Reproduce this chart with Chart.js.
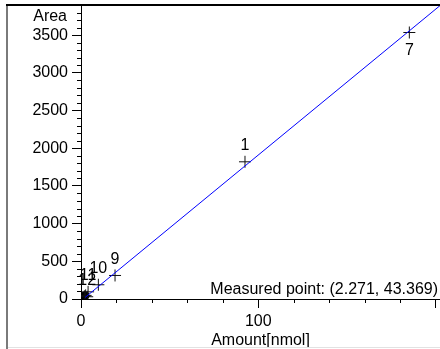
<!DOCTYPE html>
<html>
<head>
<meta charset="utf-8">
<script src="https://cdn.jsdelivr.net/npm/chart.js@4/dist/chart.umd.min.js"></script>
<style>
  html, body { margin: 0; padding: 0; background: #fff; }
  #c { display: block; }
</style>
</head>
<body>
<canvas id="c" width="440" height="349"></canvas>
<script>
// ---- data ----
const pointNames   = ['1',    '7',    '9',   '10',  '11',  '12',  '2',   '3'];
const pointAmounts = [92.5,   185.2,  19.2,  9.8,   4.0,   3.5,   1.9,   2.6];
const pointAreas   = [1820,   3535,   312,   189,   95,    30,    36,    48];
const labelledPoints = ['1', '7', '9', '10', '11', '12'];

const fitAmounts = [2.271, 202.5];
const fitAreas   = [20, 3892];

const measuredPoint = [2.271, 43.369];

const xTickValues = [0, 100, 200];
const xTickLabels = ['0', '100', ''];
const yTickValues = [0, 500, 1000, 1500, 2000, 2500, 3000, 3500];
const yTickLabels = ['0', '500', '1000', '1500', '2000', '2500', '3000', '3500'];
const xMinorStep = 20;
const yMinorStep = 100;
const xTitle = 'Amount[nmol]';
const yTitle = 'Area';

const FONT = "'Liberation Sans', Arial, sans-serif";

const decor = {
  id: 'decor',
  beforeDraw(chart) {
    const ctx = chart.ctx;
    ctx.save();
    ctx.fillStyle = '#fff';
    ctx.fillRect(0, 0, chart.width, chart.height);
    ctx.restore();
  },
  afterDraw(chart) {
    const ctx = chart.ctx;
    const xs = chart.scales.x, ys = chart.scales.y;
    const ca = chart.chartArea;
    ctx.save();
    // frame
    ctx.strokeStyle = '#7a7a7a'; ctx.lineWidth = 2;
    ctx.beginPath(); ctx.moveTo(7, 4); ctx.lineTo(7, 349); ctx.stroke();
    ctx.strokeStyle = '#000'; ctx.lineWidth = 2;
    ctx.beginPath(); ctx.moveTo(6, 5); ctx.lineTo(440, 5); ctx.stroke();
    ctx.strokeStyle = '#e2e2e2'; ctx.lineWidth = 1;
    ctx.beginPath(); ctx.moveTo(8, 347.5); ctx.lineTo(440, 347.5); ctx.stroke();

    // minor ticks
    ctx.strokeStyle = '#000'; ctx.lineWidth = 1;
    ctx.beginPath();
    for (let v = 0; v <= ys.max + 0.001; v += yMinorStep) {
      if (yTickValues.includes(v)) continue;
      const py = Math.round(ys.getPixelForValue(v)) + 0.5;
      ctx.moveTo(ca.left - 4, py); ctx.lineTo(ca.left, py);
    }
    for (let v = 0; v <= xs.max + 0.001; v += xMinorStep) {
      if (xTickValues.includes(v)) continue;
      const px = Math.round(xs.getPixelForValue(v)) + 0.5;
      ctx.moveTo(px, ca.bottom); ctx.lineTo(px, ca.bottom + 4);
    }
    ctx.stroke();

    // y title
    ctx.fillStyle = '#000';
    ctx.font = '16px ' + FONT;
    ctx.textAlign = 'right'; ctx.textBaseline = 'middle';
    ctx.fillText(yTitle, ca.left - 14, ca.top + 12);

    // point labels
    ctx.textAlign = 'center';
    pointNames.forEach((n, i) => {
      if (!labelledPoints.includes(n)) return;
      const px = xs.getPixelForValue(pointAmounts[i]);
      const py = ys.getPixelForValue(pointAreas[i]);
      const below = (py - 16) < ca.top + 24;
      ctx.fillText(n, px, below ? py + 18 : py - 16);
    });

    // measured point text
    ctx.textAlign = 'right'; ctx.textBaseline = 'alphabetic';
    ctx.fillText('Measured point: (' + measuredPoint[0].toFixed(3) + ', ' + measuredPoint[1].toFixed(3) + ')', ca.right - 2, ca.bottom - 5);
    ctx.restore();
  }
};

new Chart(document.getElementById('c'), {
  type: 'scatter',
  data: {
    datasets: [
      {
        type: 'line',
        data: fitAmounts.map((x, i) => ({ x, y: fitAreas[i] })),
        borderColor: '#0000ff', borderWidth: 1, pointRadius: 0, fill: false, tension: 0
      },
      {
        data: pointAmounts.map((x, i) => ({ x, y: pointAreas[i] })),
        pointStyle: 'cross', pointRadius: 6, borderColor: '#111', borderWidth: 1,
        backgroundColor: '#111'
      },
      {
        data: [{ x: measuredPoint[0], y: measuredPoint[1] }],
        pointStyle: 'circle', pointRadius: 4, borderColor: '#000', backgroundColor: '#000', borderWidth: 1
      }
    ]
  },
  options: {
    responsive: false,
    animation: false,
    devicePixelRatio: 1,
    layout: { autoPadding: false, padding: { top: 5, right: 0, left: 0, bottom: 0 } },
    plugins: { legend: { display: false }, tooltip: { enabled: false } },
    scales: {
      x: {
        type: 'linear', min: 0, max: 202.5,
        afterBuildTicks: (s) => { s.ticks = xTickValues.map(v => ({ value: v })); },
        afterFit: (s) => { s.height = 50; s.paddingLeft = 0; s.paddingRight = 0; },
        ticks: {
          autoSkip: false, maxRotation: 0, padding: 4, color: '#000',
          font: { family: FONT, size: 16 },
          callback: (v, i) => xTickLabels[i]
        },
        grid: { drawOnChartArea: false, tickLength: 9, tickColor: '#000' },
        border: { color: '#000', width: 1 },
        title: { display: true, text: xTitle, color: '#000', font: { family: FONT, size: 16, lineHeight: 1 }, padding: 0 }
      },
      y: {
        type: 'linear', min: 0, max: 3900,
        afterBuildTicks: (s) => { s.ticks = yTickValues.map(v => ({ value: v })); },
        afterFit: (s) => { s.width = 81; s.paddingTop = 0; s.paddingBottom = 0; },
        ticks: {
          autoSkip: false, padding: 4, color: '#000',
          font: { family: FONT, size: 16 },
          callback: (v, i) => yTickLabels[i]
        },
        grid: { drawOnChartArea: false, tickLength: 9, tickColor: '#000' },
        border: { color: '#000', width: 1 }
      }
    }
  },
  plugins: [decor]
});
</script>
</body>
</html>
